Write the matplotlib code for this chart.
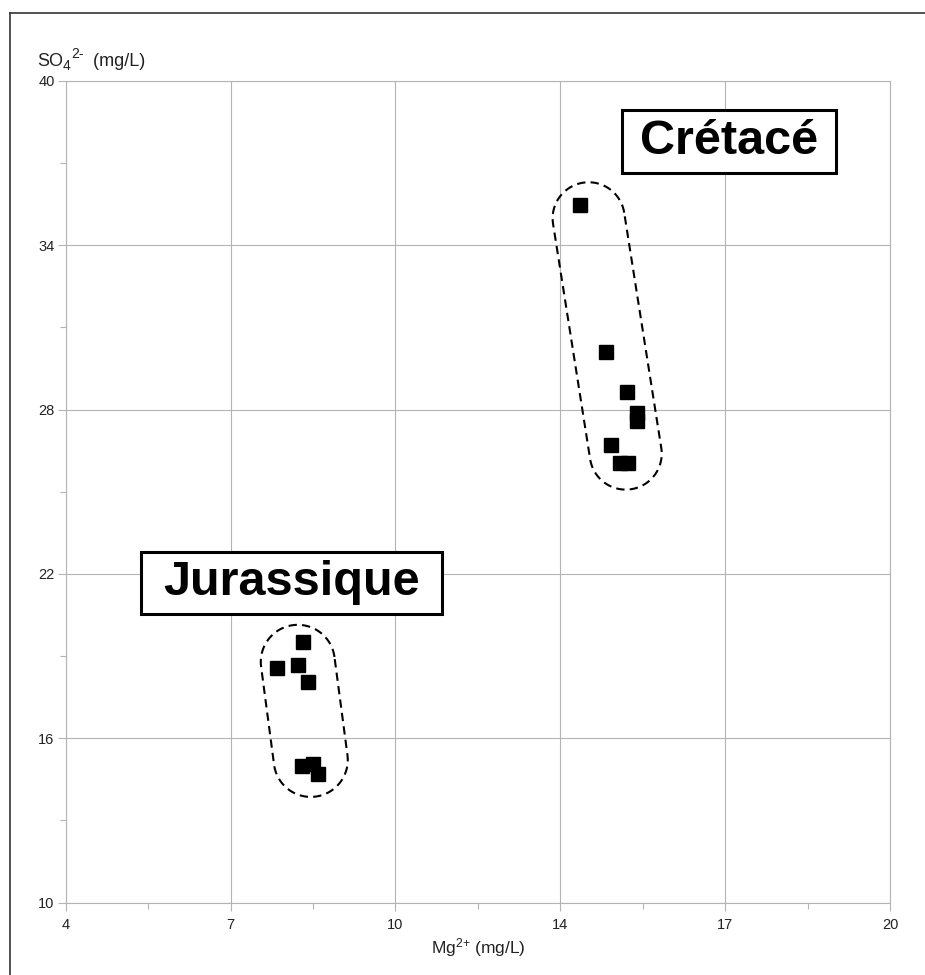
import numpy as np
import matplotlib
matplotlib.use("Agg")
import matplotlib.pyplot as plt
from matplotlib.lines import Line2D
from matplotlib.patches import Rectangle
from matplotlib.transforms import offset_copy

plt.rcParams['font.family'] = ['Liberation Sans', 'DejaVu Sans']
plt.rcParams['mathtext.fontset'] = 'custom'
plt.rcParams['mathtext.rm'] = 'Liberation Sans'
plt.rcParams['mathtext.it'] = 'Liberation Sans'

# Mg2+ / SO4 2- (mg/L)
jur_mg = [8.61, 8.11, 8.51, 8.70, 8.58, 8.80, 8.90]
jur_so4 = [19.50, 18.56, 18.66, 18.04, 14.99, 15.07, 14.69]
cre_mg = [13.99, 14.49, 14.89, 15.09, 15.09, 14.59, 14.75, 14.91]
cre_so4 = [35.45, 30.10, 28.63, 27.89, 27.57, 26.72, 26.03, 26.05]

x_ticks = [4, 7.2, 10.4, 13.6, 16.8, 20]
x_labels = ['4', '7', '10', '14', '17', '20']
y_ticks = [10, 16, 22, 28, 34, 40]

# group outlines: capsule end centres (data) and radius (px)
jur_caps = ((8.505, 18.79), (8.757, 15.21), 37)
cre_caps = ((14.15, 34.98), (14.87, 26.39), 36)

GRID = '#b4b4b4'
TXT = '#222222'

fig = plt.figure(figsize=(9.25, 9.75), dpi=100)
ax = fig.add_axes([0.0710, 0.0742, 0.8912, 0.8430])
ax.set_xlim(4, 20)
ax.set_ylim(10, 40)
ax.set_xticks(x_ticks)
ax.set_xticklabels(x_labels)
ax.set_yticks(y_ticks)
ax.set_xticks([(a + b) / 2 for a, b in zip(x_ticks[:-1], x_ticks[1:])], minor=True)
ax.set_yticks([(a + b) / 2 for a, b in zip(y_ticks[:-1], y_ticks[1:])], minor=True)
ax.grid(True, which='major', color=GRID, lw=0.8)
for s in ax.spines.values():
    s.set_color(GRID)
    s.set_linewidth(0.8)
ax.tick_params(which='major', length=6, width=0.8, color=GRID, labelsize=10.5,
               labelcolor=TXT, pad=2)
ax.tick_params(axis='x', which='major', pad=5)
ax.tick_params(which='minor', length=4, width=0.8, color=GRID)
ax.set_axisbelow(True)

ax.plot(jur_mg, jur_so4, 's', color='black', ms=10, mec='black')
ax.plot(cre_mg, cre_so4, 's', color='black', ms=10, mec='black')

inv = ax.transData.inverted()


def capsule(p1, p2, r):
    a = ax.transData.transform(p1)
    b = ax.transData.transform(p2)
    d = b - a
    ang = np.arctan2(d[1], d[0])
    t1 = np.linspace(ang + np.pi / 2, ang + 3 * np.pi / 2, 60)
    t2 = np.linspace(ang - np.pi / 2, ang + np.pi / 2, 60)
    pts = np.vstack([a + r * np.c_[np.cos(t1), np.sin(t1)],
                     b + r * np.c_[np.cos(t2), np.sin(t2)]])
    pts = np.vstack([pts, pts[:1]])
    dp = inv.transform(pts)
    ax.plot(dp[:, 0], dp[:, 1], color='black', lw=1.5, ls=(0, (4, 2.5)))


capsule(*jur_caps)
capsule(*cre_caps)


def label(txt, x, y, w_px, h_px):
    c = ax.transData.transform((x, y))
    lo = inv.transform(c - np.array([w_px / 2, h_px / 2]))
    hi = inv.transform(c + np.array([w_px / 2, h_px / 2]))
    ax.add_patch(Rectangle(lo, hi[0] - lo[0], hi[1] - lo[1], facecolor='white',
                           edgecolor='black', lw=2.2, zorder=3))
    ax.text(x, y, txt, ha='center', va='center', fontsize=35, fontweight='bold',
            zorder=4)


label('Jurassique', 8.39, 21.68, 301, 62)
label('Crétacé', 16.88, 37.78, 214, 63)

ax.set_xlabel(r'Mg$^{2\text{+}}$ (mg/L)', fontsize=12.5, labelpad=3, color=TXT)

# y label built from pieces: (text, size, vertical shift in pt)
renderer = fig.canvas.get_renderer()
x0, y0 = 37 / 925, 1 - 66 / 975
dx = 0.0
for s, size, dy in [('SO', 13, 0), ('4', 10, -3), ('2-', 10, 6), ('  (mg/L)', 13, 0)]:
    tr = offset_copy(fig.transFigure, fig=fig, x=dx, y=dy, units='points')
    t = fig.text(x0, y0, s, fontsize=size, ha='left', va='baseline',
                 color=TXT, transform=tr)
    dx += t.get_window_extent(renderer).width * 72 / fig.dpi

# outer frame (left and top)
fig.add_artist(Line2D([10 / 925, 10 / 925], [0, 1 - 13 / 975],
                      transform=fig.transFigure, color='#333333', lw=1.2))
fig.add_artist(Line2D([10 / 925, 1], [1 - 13 / 975, 1 - 13 / 975],
                      transform=fig.transFigure, color='#333333', lw=1.2))

fig.savefig('out.png', dpi=100)
